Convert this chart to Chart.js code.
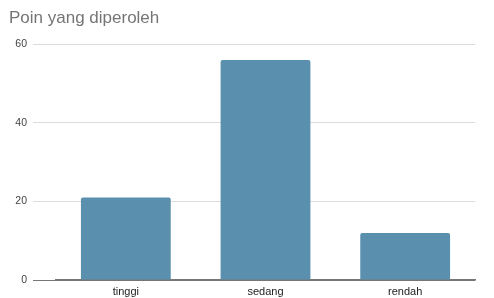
<!DOCTYPE html>
<html>
<head>
<meta charset="utf-8">
<script src="https://cdn.jsdelivr.net/npm/chart.js@4"></script>
<style>
  html, body { margin: 0; padding: 0; background: #fff; }
  #wrap { width: 494px; height: 298px; }
</style>
</head>
<body>
<div id="wrap"><canvas id="chart" width="494" height="298"></canvas></div>
<script>
const categories = ['tinggi', 'sedang', 'rendah'];
const points = [21, 56, 12];
const yTicks = [0, 20, 40, 60];

const ctx = document.getElementById('chart').getContext('2d');
new Chart(ctx, {
    type: 'bar',
    data: {
        labels: categories,
        datasets: [{
            label: 'Poin',
            data: points,
            backgroundColor: '#5a8fae',
            borderRadius: 2,
            borderSkipped: 'bottom',
            categoryPercentage: 1,
            barPercentage: 0.643
        }]
    },
    options: {
        responsive: false,
        animation: false,
        layout: { padding: { left: 9, right: 19, top: 0, bottom: 0 } },
        plugins: {
            legend: { display: false },
            tooltip: { enabled: false },
            title: {
                display: true,
                text: 'Poin yang diperoleh',
                align: 'start',
                color: '#757575',
                font: { family: 'Liberation Sans, Arial', size: 17, weight: 'normal' },
                padding: { top: 8, bottom: 16 }
            }
        },
        scales: {
            x: {
                grid: { display: false, drawTicks: false },
                border: { display: true, color: '#777', width: 1.5 },
                ticks: {
                    color: '#222',
                    font: { family: 'Liberation Sans, Arial', size: 11 },
                    padding: 5
                },
                afterFit: s => { s.height = 18; }
            },
            y: {
                min: 0,
                max: 60,
                afterBuildTicks: s => { s.ticks = yTicks.map(v => ({ value: v })); },
                grid: {
                    color: c => c.tick && c.tick.value === 0 ? '#777' : '#dcdcdc',
                    tickLength: 23,
                    drawTicks: true
                },
                border: { display: false },
                ticks: {
                    color: '#444',
                    font: { family: 'Liberation Sans, Arial', size: 10.5 },
                    padding: 6
                },
                afterFit: s => { s.width = 47; }
            }
        }
    }
});
</script>
</body>
</html>
